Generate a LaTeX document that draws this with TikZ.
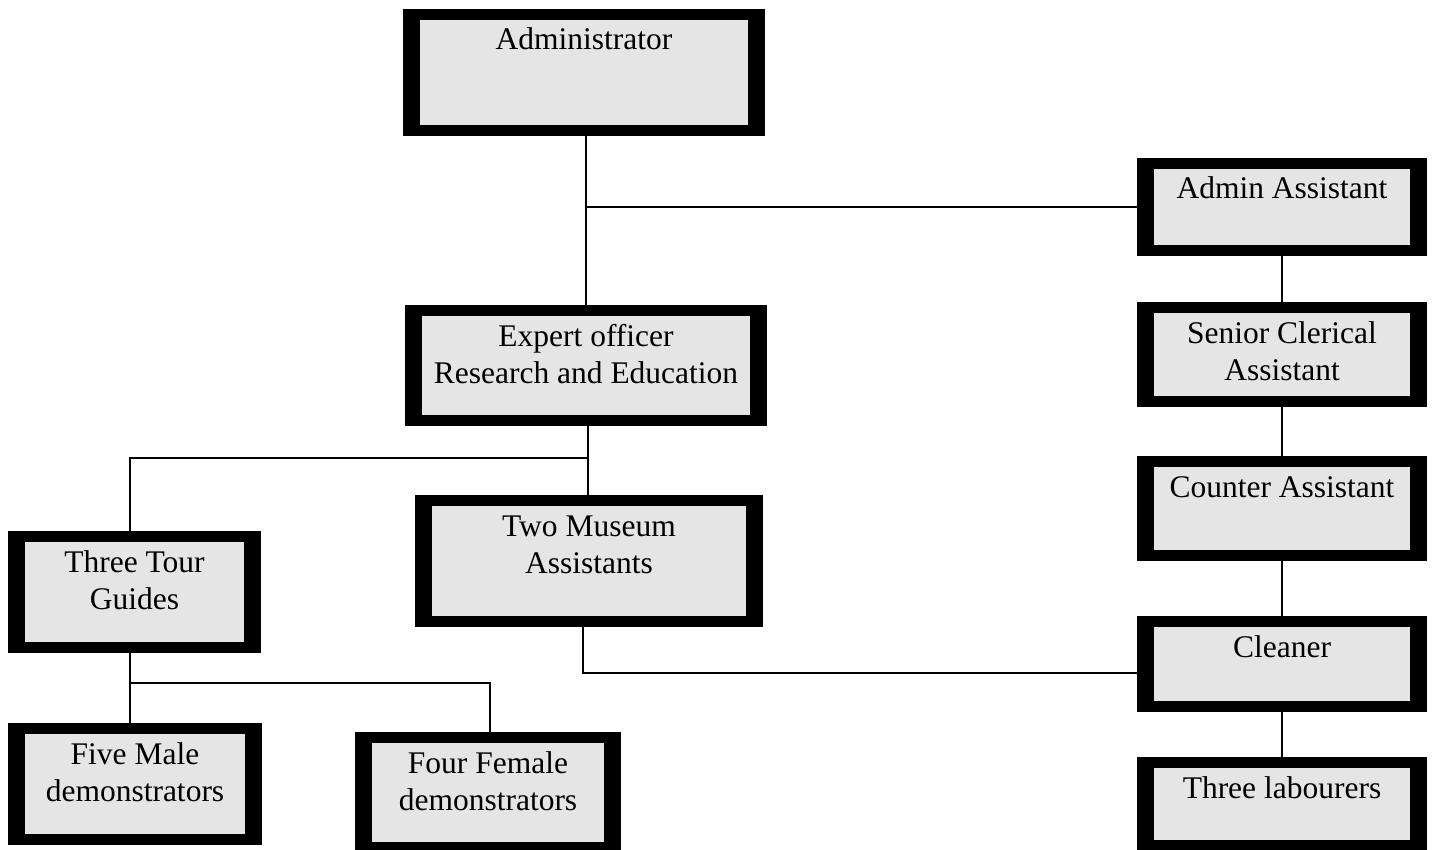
\documentclass[tikz,border=0pt]{standalone}
\usepackage{fontspec}
\setmainfont{Liberation Serif}
\definecolor{boxgray}{RGB}{229,229,229}
\tikzset{
  outerbox/.style={rectangle, fill=black, inner sep=0pt, outer sep=0pt},
  innerbox/.style={rectangle, fill=boxgray, inner sep=0pt, outer sep=0pt},
  boxtext/.style={inner sep=0pt, outer sep=0pt, anchor=base},
  conn/.style={draw=black, line width=1.6pt}
}
% name, x1, y1, x2, y2, text
\newcommand{\orgbox}[6]{%
  \node[outerbox, minimum width={#4-#2}, minimum height={#5-#3}] (#1) at ({(#2+#4)/2},{(#3+#5)/2}) {};
  \node[innerbox, minimum width={#4-#2-34}, minimum height={#5-#3-22}] (#1-in) at (#1.center) {};
  \node[boxtext] (#1-txt) at ([yshift=-41pt]#1.north) {\parbox[t]{400pt}{\centering\fontsize{31.5}{37}\selectfont #6}};
}
\begin{document}
\begin{tikzpicture}[x=1pt,y=-1pt]
\useasboundingbox[fill=white] (0,0) rectangle (1434,850);
\orgbox{adm}{403}{9}{765}{136}{Administrator}
\orgbox{aa}{1137}{158}{1427}{256}{Admin Assistant}
\orgbox{exp}{405}{305}{767}{426}{Expert officer\\Research and Education}
\orgbox{sca}{1137}{302}{1427}{407}{Senior Clerical\\Assistant}
\orgbox{ca}{1137}{456}{1427}{561}{Counter Assistant}
\orgbox{tma}{415}{495}{763}{627}{Two Museum\\Assistants}
\orgbox{ttg}{8}{531}{261}{653}{Three Tour\\Guides}
\orgbox{cl}{1137}{616}{1427}{712}{Cleaner}
\orgbox{fmd}{8}{723}{262}{845}{Five Male\\demonstrators}
\orgbox{ffd}{355}{732}{621}{853}{Four Female\\demonstrators}
\orgbox{lab}{1137}{757}{1427}{851}{Three labourers}
\coordinate (c1) at (586,207);
\coordinate (c2) at (588,458);
\coordinate (c3) at (130,458);
\coordinate (c4) at (130,683);
\coordinate (c5) at (490,683);
\coordinate (c6) at (583,673);
\draw[conn] (adm.south -| c1) -- (exp.north -| c1);
\draw[conn] (c1) -- (aa.west |- c1);
\draw[conn] (aa.south) -- (sca.north);
\draw[conn] (sca.south) -- (ca.north);
\draw[conn] (ca.south) -- (cl.north);
\draw[conn] (cl.south) -- (lab.north);
\draw[conn] (exp.south -| c2) -- (tma.north -| c2);
\draw[conn] (c2) -- (c3) -- (ttg.north -| c3);
\draw[conn] (ttg.south -| c4) -- (fmd.north -| c4);
\draw[conn] (c4) -- (c5) -- (ffd.north -| c5);
\draw[conn] (tma.south -| c6) -- (c6) -- (cl.west |- c6);
\end{tikzpicture}
\end{document}
